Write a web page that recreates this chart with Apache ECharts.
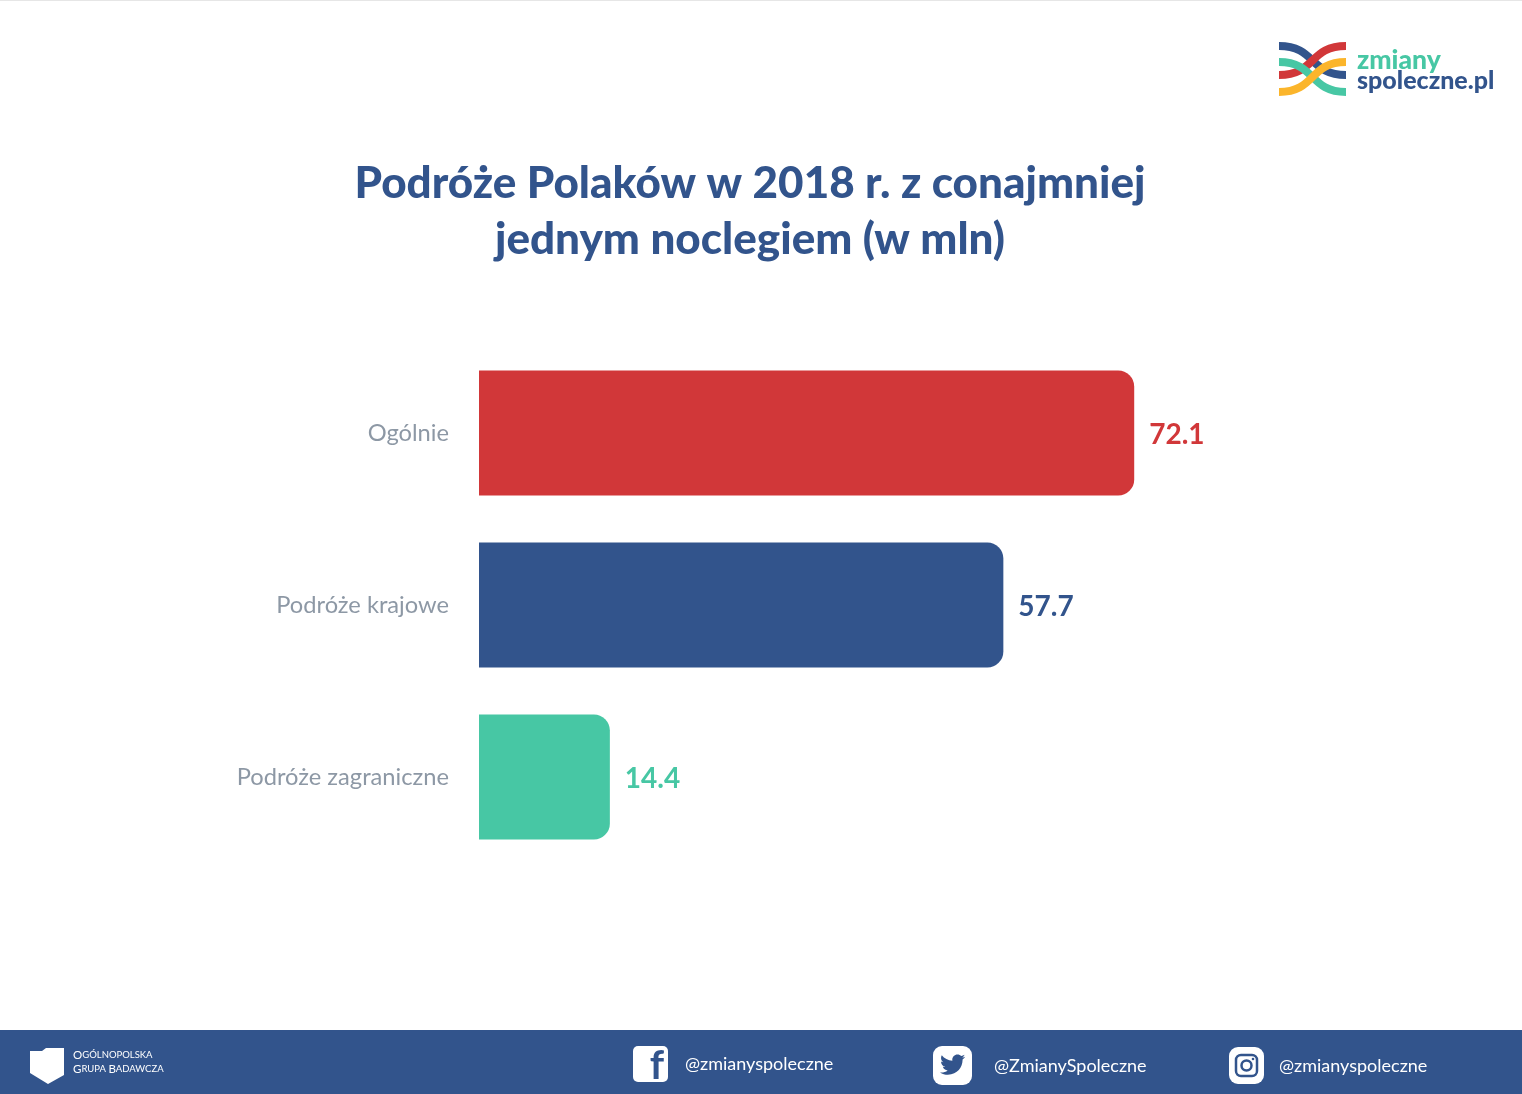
<!DOCTYPE html>
<html>
<head>
<meta charset="utf-8">
<title>Podróże Polaków</title>
<script src="https://cdn.jsdelivr.net/npm/echarts@6/dist/echarts.min.js"></script>
<style>
html, body { margin: 0; padding: 0; background: #fff; }
#chart { width: 1522px; height: 1094px; }
</style>
</head>
<body>
<div id="chart"></div>
<script>
var categories = ['Ogólnie', 'Podróże krajowe', 'Podróże zagraniczne'];
var values = [72.1, 57.7, 14.4];
var barColors = ['#d13739', '#32548c', '#47c7a4'];

var NAVY = '#32548c';
var FONT = 'Lato, "Noto Sans", sans-serif';

// the graphic component has no plain path type, so the bird is registered as a shape
echarts.graphic.registerShape('twitterBird', echarts.graphic.extendPath(
    'M24 4.6c-.9.4-1.8.7-2.8.8 1-.6 1.8-1.6 2.2-2.7-1 .6-2 1-3.1 1.2C19.4 2.9 18.1 2.3 16.6 2.3c-2.7 0-4.9 2.2-4.9 4.9 0 .4 0 .8.1 1.1C7.7 8.1 4.1 6.1 1.7 3.1c-.4.7-.7 1.6-.7 2.5 0 1.7.9 3.2 2.2 4.1-.8 0-1.6-.2-2.2-.6v.1c0 2.4 1.7 4.4 3.9 4.8-.4.1-.8.2-1.3.2-.3 0-.6 0-.9-.1.6 2 2.4 3.4 4.6 3.4-1.7 1.3-3.8 2.1-6.1 2.1-.4 0-.8 0-1.2-.1 2.2 1.4 4.8 2.2 7.5 2.2 9.1 0 14-7.5 14-14v-.6c1-.7 1.8-1.6 2.5-2.5z',
    {}
));

function curve(x1, y1, cx1, cy1, cx2, cy2, x2, y2, color) {
    return {
        type: 'bezierCurve',
        shape: { x1: x1, y1: y1, cpx1: cx1, cpy1: cy1, cpx2: cx2, cpy2: cy2, x2: x2, y2: y2 },
        style: { stroke: color, lineWidth: 8, fill: 'none' },
        silent: true
    };
}

function label(x, y, text, size, color, weight, align) {
    return {
        type: 'text',
        x: x,
        y: y,
        style: {
            text: text,
            fill: color,
            font: (weight || 'normal') + ' ' + size + 'px ' + FONT,
            textAlign: align || 'left',
            textVerticalAlign: 'middle'
        },
        silent: true
    };
}

var logo = [
    curve(1279, 46, 1316, 46, 1309, 75, 1346, 75, '#32548c'),
    curve(1346, 46, 1309, 46, 1316, 75, 1279, 75, '#d13739'),
    curve(1279, 62, 1316, 62, 1309, 92, 1346, 92, '#47c7a4'),
    curve(1346, 62, 1309, 62, 1316, 92, 1279, 92, '#fbb52b'),
    label(1357, 60, 'zmiany', 26.5, '#47c7a4', 900),
    label(1357, 81, 'spoleczne.pl', 25, '#32548c', 900)
];

var footer = [
    { type: 'rect', shape: { x: 0, y: 0, width: 1522, height: 1 }, style: { fill: '#e6e6e6' }, silent: true },
    { type: 'rect', shape: { x: 0, y: 1030, width: 1522, height: 64 }, style: { fill: NAVY }, silent: true },
    // shield
    {
        type: 'polygon',
        shape: { points: [[30, 1051], [42, 1051], [46, 1048], [64, 1048], [64, 1075], [48, 1084], [30, 1073]] },
        style: { fill: '#fff' },
        silent: true
    },
    {
        type: 'text',
        x: 73,
        y: 1062,
        style: {
            text: '{a|O}{b|GÓLNOPOLSKA}\n{a|G}{b|RUPA }{a|B}{b|ADAWCZA}',
            fill: '#fff',
            textVerticalAlign: 'middle',
            rich: {
                a: { font: 'normal 11.5px ' + FONT, fill: '#fff', lineHeight: 14 },
                b: { font: 'normal 9.5px ' + FONT, fill: '#fff', lineHeight: 14 }
            }
        },
        silent: true
    },
    // facebook
    { type: 'rect', shape: { x: 633, y: 1046, width: 35, height: 36, r: 5 }, style: { fill: '#fff' }, silent: true },
    label(657, 1066, 'f', 40, NAVY, 'bold', 'center'),
    label(685, 1064, '@zmianyspoleczne', 18, '#fff'),
    // twitter
    { type: 'rect', shape: { x: 933, y: 1046, width: 39, height: 39, r: 9 }, style: { fill: '#fff' }, silent: true },
    { type: 'twitterBird', x: 940, y: 1052, scaleX: 1.05, scaleY: 1.05, style: { fill: NAVY }, silent: true },
    label(994, 1066, '@ZmianySpoleczne', 18, '#fff'),
    // instagram
    { type: 'rect', shape: { x: 1229, y: 1047, width: 35, height: 37, r: 9 }, style: { fill: '#fff' }, silent: true },
    { type: 'rect', shape: { x: 1236, y: 1055, width: 21, height: 21, r: 5 }, style: { fill: 'none', stroke: NAVY, lineWidth: 2.5 }, silent: true },
    { type: 'circle', shape: { cx: 1246.5, cy: 1065.5, r: 5 }, style: { fill: 'none', stroke: NAVY, lineWidth: 2.5 }, silent: true },
    { type: 'circle', shape: { cx: 1253, cy: 1059, r: 1.3 }, style: { fill: NAVY }, silent: true },
    label(1279, 1066, '@zmianyspoleczne', 18, '#fff')
];

var chart = echarts.init(document.getElementById('chart'));

chart.setOption({
    animation: false,
    backgroundColor: '#fff',
    title: {
        text: 'Podróże Polaków w 2018 r. z conajmniej\njednym noclegiem (w mln)',
        left: 745,
        top: 151,
        textAlign: 'center',
        textStyle: {
            color: NAVY,
            fontFamily: FONT,
            fontWeight: 900,
            fontSize: 44,
            lineHeight: 56
        }
    },
    grid: { left: 479, top: 347, width: 727, height: 516 },
    xAxis: { type: 'value', min: 0, max: 80, show: false },
    yAxis: {
        type: 'category',
        inverse: true,
        data: categories,
        axisLine: { show: false },
        axisTick: { show: false },
        axisLabel: { color: '#8d98a5', fontFamily: FONT, fontSize: 23.7, margin: 30, padding: [2, 0, 0, 0] }
    },
    series: [{
        type: 'bar',
        barWidth: 125,
        data: values.map(function(v, i) {
            return {
                value: v,
                itemStyle: { color: barColors[i], borderRadius: [0, 16, 16, 0] },
                label: { color: barColors[i] }
            };
        }),
        label: {
            show: true,
            position: 'right',
            distance: 15,
            offset: [0, 1.5],
            fontFamily: FONT,
            fontWeight: 'bold',
            fontSize: 28,
            formatter: function(p) { return p.value.toFixed(1); }
        }
    }],
    graphic: { elements: logo.concat(footer) }
});
</script>
</body>
</html>
